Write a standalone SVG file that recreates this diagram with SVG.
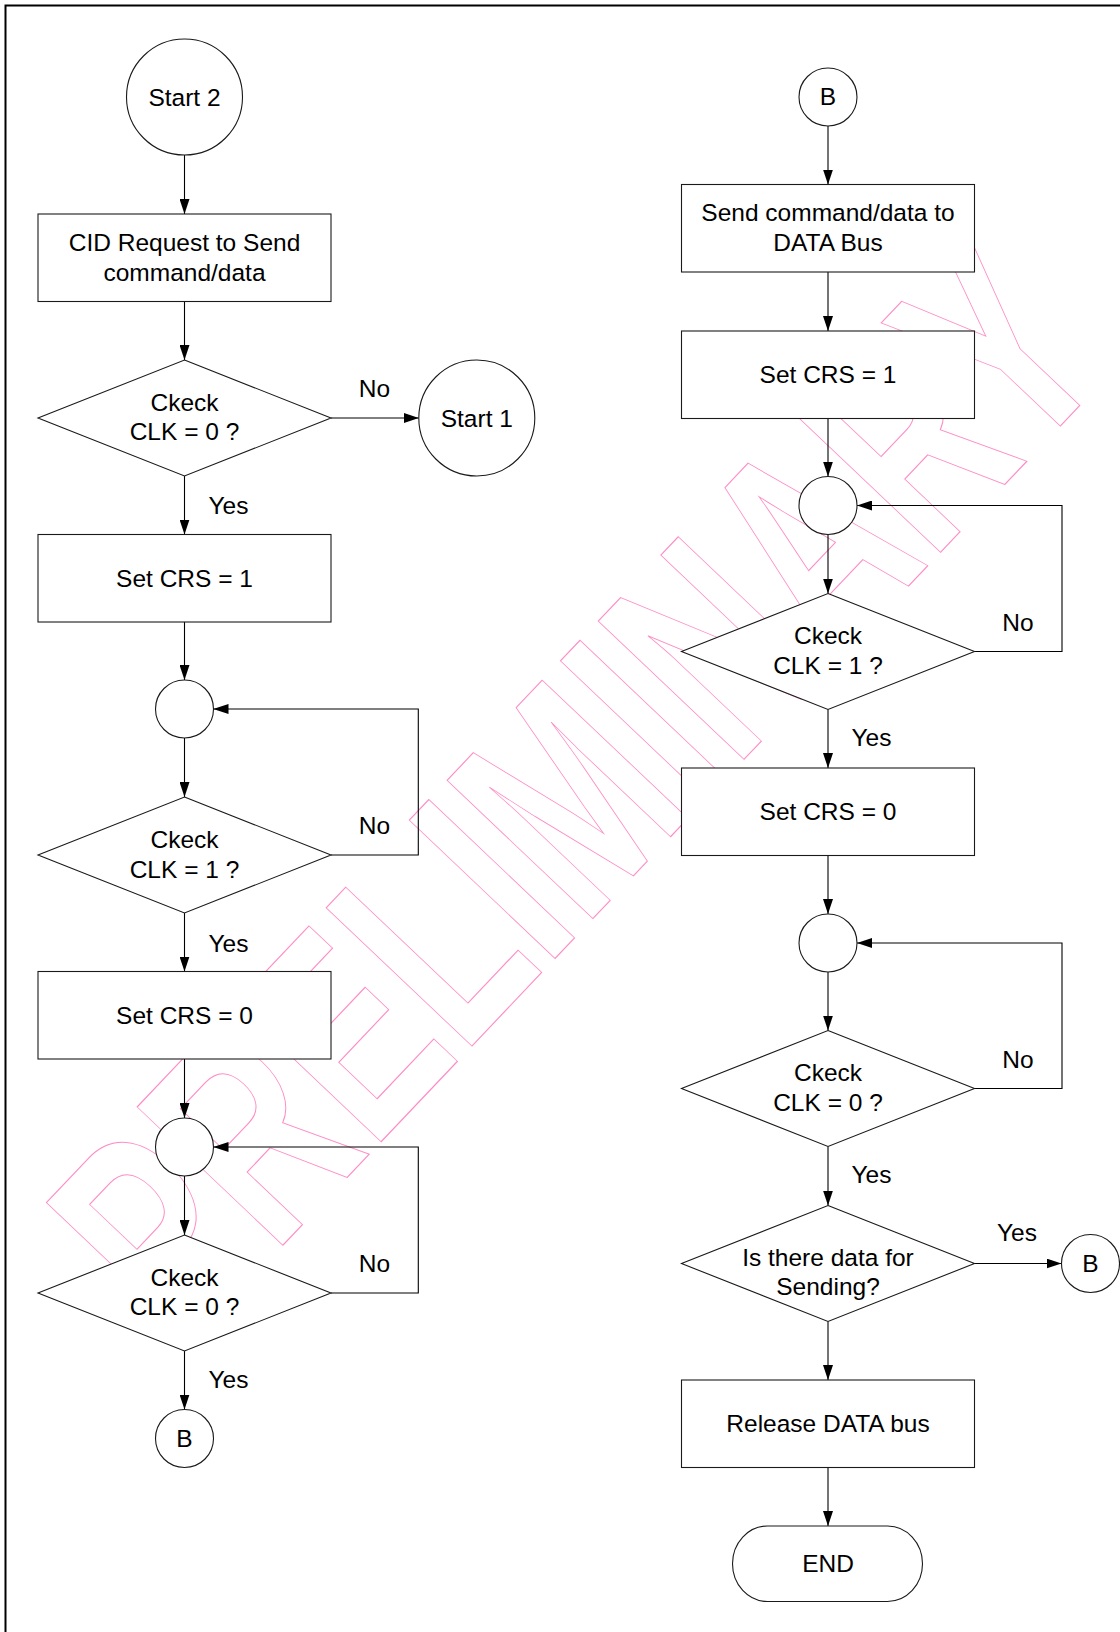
<svg xmlns="http://www.w3.org/2000/svg" width="1120" height="1632" viewBox="0 0 1120 1632">
<defs>
<marker id="ah" markerWidth="15" markerHeight="10" refX="15" refY="5" orient="auto" markerUnits="userSpaceOnUse">
<path d="M0,0 L15,5 L0,10 z" fill="#000"/>
</marker>
<style>
.shape{fill:#fff;stroke:#1a1a1a;stroke-width:1.1}
.t{font-family:"Liberation Sans",Arial,sans-serif;font-size:24.5px;fill:#000;text-anchor:middle}
.c{fill:none;stroke:#000;stroke-width:1.1}
.ca{fill:none;stroke:#000;stroke-width:1.1;marker-end:url(#ah)}
.wm{font-family:"Liberation Sans",Arial,sans-serif;font-weight:bold;font-size:292px;fill:none;stroke:#ff8cc6;stroke-width:1}
</style>
</defs>
<rect width="1120" height="1632" fill="#fff"/>
<path d="M5.5,1632 V5.5 H1120" fill="none" stroke="#000" stroke-width="2"/>

<g id="watermark">
<text class="wm" x="0" y="0" vector-effect="non-scaling-stroke" transform="translate(183,1350.5) rotate(-46.5) scale(0.677,1)">PRELIMINARY</text>
</g>

<g id="connectors">
<line class="ca" x1="184.5" y1="155" x2="184.5" y2="214"/>
<line class="ca" x1="184.5" y1="301.5" x2="184.5" y2="360"/>
<line class="ca" x1="331" y1="418" x2="418.8" y2="418"/>
<line class="ca" x1="184.5" y1="476" x2="184.5" y2="534.5"/>
<line class="ca" x1="184.5" y1="622" x2="184.5" y2="680"/>
<line class="ca" x1="184.5" y1="738" x2="184.5" y2="797"/>
<path class="ca" d="M331,855 H418.3 V709 H213.5"/>
<line class="ca" x1="184.5" y1="913" x2="184.5" y2="971.5"/>
<line class="ca" x1="184.5" y1="1059" x2="184.5" y2="1118"/>
<line class="ca" x1="184.5" y1="1176" x2="184.5" y2="1235"/>
<path class="ca" d="M331,1293 H418.3 V1147 H213.5"/>
<line class="ca" x1="184.5" y1="1351" x2="184.5" y2="1409.5"/>

<line class="ca" x1="828" y1="126" x2="828" y2="184.5"/>
<line class="ca" x1="828" y1="272" x2="828" y2="331"/>
<line class="ca" x1="828" y1="418.5" x2="828" y2="476.5"/>
<line class="ca" x1="828" y1="534.5" x2="828" y2="593.5"/>
<path class="ca" d="M974.5,651.5 H1062 V505.5 H857"/>
<line class="ca" x1="828" y1="709.5" x2="828" y2="768"/>
<line class="ca" x1="828" y1="855.5" x2="828" y2="914"/>
<line class="ca" x1="828" y1="972" x2="828" y2="1030.5"/>
<path class="ca" d="M974.5,1088.5 H1062 V943 H857"/>
<line class="ca" x1="828" y1="1146.5" x2="828" y2="1205.5"/>
<line class="ca" x1="974.5" y1="1263.5" x2="1061.5" y2="1263.5"/>
<line class="ca" x1="828" y1="1321.5" x2="828" y2="1380"/>
<line class="ca" x1="828" y1="1467.5" x2="828" y2="1526"/>

<text class="t" x="374.5" y="396.5">No</text>
<text class="t" x="228.5" y="514">Yes</text>
<text class="t" x="374.5" y="833.5">No</text>
<text class="t" x="228.5" y="951.5">Yes</text>
<text class="t" x="374.5" y="1271.5">No</text>
<text class="t" x="228.5" y="1388">Yes</text>
<text class="t" x="1018" y="630.5">No</text>
<text class="t" x="871.5" y="746">Yes</text>
<text class="t" x="1018" y="1067.5">No</text>
<text class="t" x="871.5" y="1183">Yes</text>
<text class="t" x="1017" y="1241">Yes</text>
</g>

<g id="start2"><circle class="shape" cx="184.5" cy="97" r="58"/><text class="t" x="184.5" y="105.5">Start 2</text></g>
<g id="cid-request"><rect class="shape" x="38" y="214" width="293" height="87.5"/><text class="t" x="184.5" y="251">CID Request to Send</text><text class="t" x="184.5" y="280.5">command/data</text></g>
<g id="check1"><polygon class="shape" points="184.5,360 331,418 184.5,476 38,418"/><text class="t" x="184.5" y="410.5">Ckeck</text><text class="t" x="184.5" y="440">CLK = 0 ?</text></g>
<g id="start1"><circle class="shape" cx="476.8" cy="418" r="58"/><text class="t" x="476.8" y="426.5">Start 1</text></g>
<g id="setcrs1-left"><rect class="shape" x="38" y="534.5" width="293" height="87.5"/><text class="t" x="184.5" y="586.5">Set CRS = 1</text></g>
<g id="junction1-left"><circle class="shape" cx="184.5" cy="709" r="29"/></g>
<g id="check2"><polygon class="shape" points="184.5,797 331,855 184.5,913 38,855"/><text class="t" x="184.5" y="847.5">Ckeck</text><text class="t" x="184.5" y="877.5">CLK = 1 ?</text></g>
<g id="setcrs0-left"><rect class="shape" x="38" y="971.5" width="293" height="87.5"/><text class="t" x="184.5" y="1023.5">Set CRS = 0</text></g>
<g id="junction2-left"><circle class="shape" cx="184.5" cy="1147" r="29"/></g>
<g id="check3"><polygon class="shape" points="184.5,1235 331,1293 184.5,1351 38,1293"/><text class="t" x="184.5" y="1285.5">Ckeck</text><text class="t" x="184.5" y="1315">CLK = 0 ?</text></g>
<g id="b-left"><circle class="shape" cx="184.5" cy="1438.5" r="29"/><text class="t" x="184.5" y="1446.5">B</text></g>

<g id="b-top"><circle class="shape" cx="828" cy="97" r="29"/><text class="t" x="828" y="105">B</text></g>
<g id="send-cmd"><rect class="shape" x="681.5" y="184.5" width="293" height="87.5"/><text class="t" x="828" y="221">Send command/data to</text><text class="t" x="828" y="250.5">DATA Bus</text></g>
<g id="setcrs1-right"><rect class="shape" x="681.5" y="331" width="293" height="87.5"/><text class="t" x="828" y="382.5">Set CRS = 1</text></g>
<g id="junction1-right"><circle class="shape" cx="828" cy="505.5" r="29"/></g>
<g id="check4"><polygon class="shape" points="828,593.5 974.5,651.5 828,709.5 681.5,651.5"/><text class="t" x="828" y="644">Ckeck</text><text class="t" x="828" y="674">CLK = 1 ?</text></g>
<g id="setcrs0-right"><rect class="shape" x="681.5" y="768" width="293" height="87.5"/><text class="t" x="828" y="819.5">Set CRS = 0</text></g>
<g id="junction2-right"><circle class="shape" cx="828" cy="943" r="29"/></g>
<g id="check5"><polygon class="shape" points="828,1030.5 974.5,1088.5 828,1146.5 681.5,1088.5"/><text class="t" x="828" y="1081">Ckeck</text><text class="t" x="828" y="1111">CLK = 0 ?</text></g>
<g id="more-data"><polygon class="shape" points="828,1205.5 974.5,1263.5 828,1321.5 681.5,1263.5"/><text class="t" x="828" y="1265.5">Is there data for</text><text class="t" x="828" y="1294.5">Sending?</text></g>
<g id="b-right"><circle class="shape" cx="1090.5" cy="1263.5" r="29"/><text class="t" x="1090.5" y="1271.5">B</text></g>
<g id="release"><rect class="shape" x="681.5" y="1380" width="293" height="87.5"/><text class="t" x="828" y="1432">Release DATA bus</text></g>
<g id="end"><rect class="shape" x="732.5" y="1526" width="190" height="75.5" rx="35" ry="37.75"/><text class="t" x="828" y="1572">END</text></g>
</svg>
